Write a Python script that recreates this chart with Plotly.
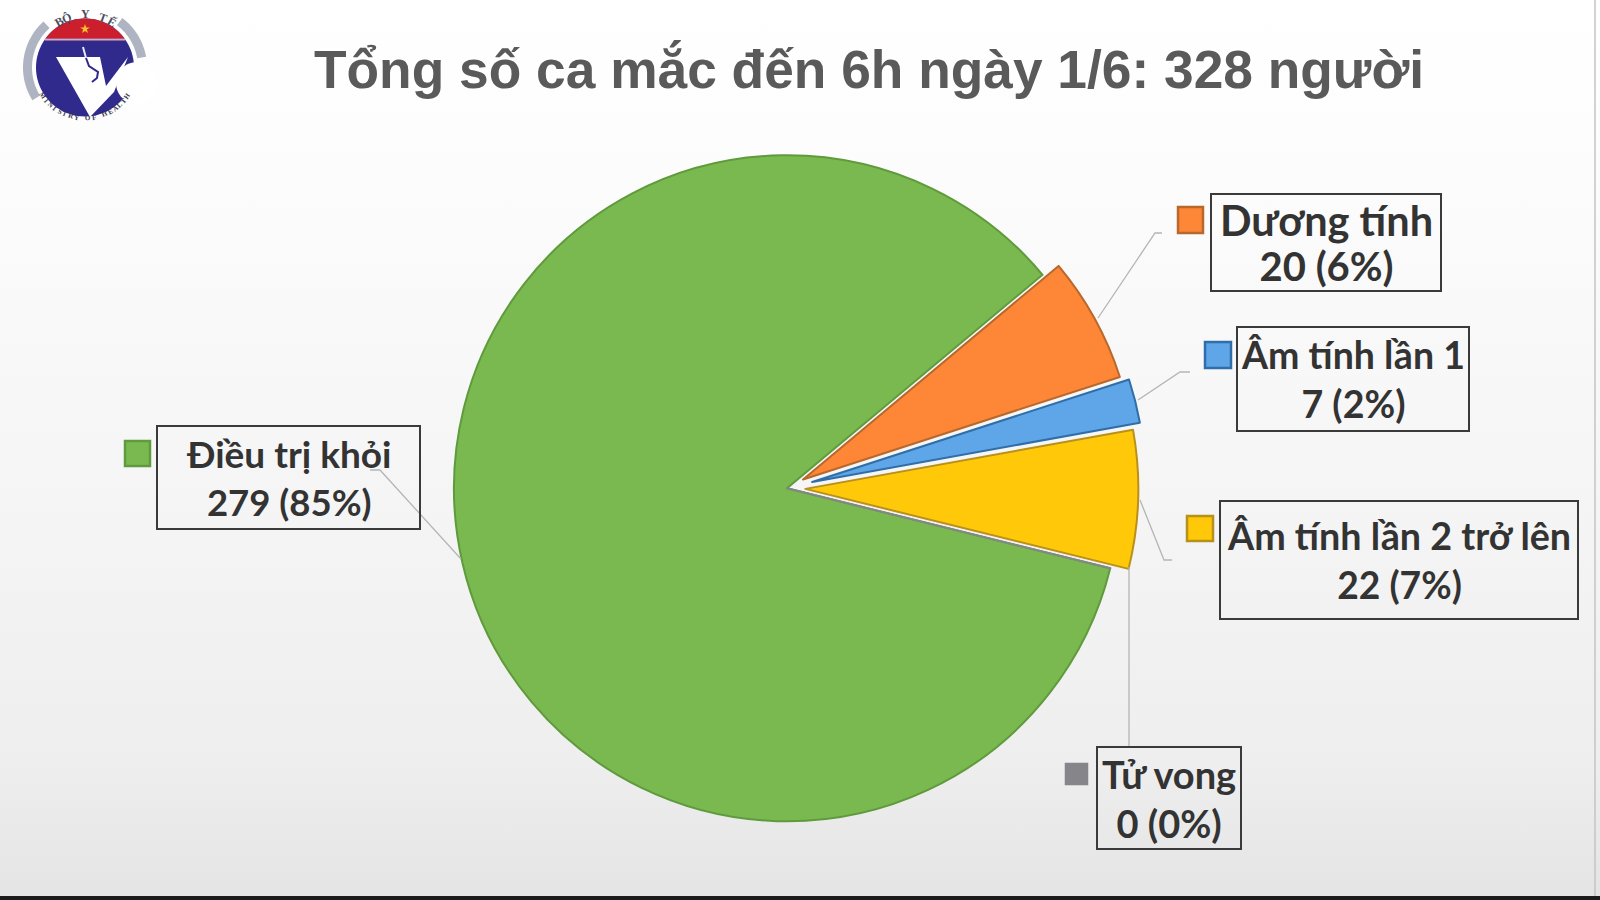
import math
from urllib.parse import quote
import plotly.graph_objects as go

# ---- data ----
categories = ["Điều trị khỏi", "Dương tính", "Âm tính lần 1", "Âm tính lần 2 trở lên", "Tử vong"]
values = [279, 20, 7, 22, 0]
chart_title = "Tổng số ca mắc đến 6h ngày 1/6: 328 người"

# ---- styles ----
fills = ["#7ab94f", "#fd8637", "#5ea6e8", "#ffc808", "#85858a"]
edges = ["#5f9a3c", "#b9682c", "#2f6ea8", "#b8901a", "#85858a"]
pulls = [0, 0.055, 0.078, 0.055, 0]
total = sum(values)
W, H = 1600, 900
def fx(x): return x / W
def fy(y): return 1 - y / H

# label layout in page pixels: box, key square, leader polyline, base size (line pitch), line sizes
label_layout = {
    "Điều trị khỏi": dict(box=(157, 426, 420, 529), key=(125, 441, 150, 466), lead=[(461, 559), (380, 470), (370, 470)], size=37, lines=(37, 36.5)),
    "Dương tính": dict(box=(1211, 194, 1441, 291), key=(1178, 207, 1203, 233), lead=[(1098, 318), (1155, 233), (1162, 233)], size=34.5, lines=(41.5, 40)),
    "Âm tính lần 1": dict(box=(1237, 327, 1469, 431), key=(1205, 342, 1231, 368), lead=[(1138, 400), (1180, 372), (1190, 372)], size=37.5, lines=(37.5, 37.5)),
    "Âm tính lần 2 trở lên": dict(box=(1220, 501, 1578, 619), key=(1187, 516, 1213, 541), lead=[(1140, 500), (1164, 560), (1172, 560)], size=37.7, lines=(37.7, 37.2)),
    "Tử vong": dict(box=(1097, 747, 1241, 849), key=(1066, 764, 1087, 784), lead=[(1129, 567), (1129, 747)], size=37.5, lines=(38, 38)),
}

shapes, annotations = [], []

def poly(points, fill=None, line=None, width=0, close=True, layer="above"):
    d = "M " + " L ".join(f"{fx(x):.5f},{fy(y):.5f}" for x, y in points) + (" Z" if close else "")
    shapes.append(dict(type="path", path=d, xref="paper", yref="paper", layer=layer,
                       fillcolor=fill if fill else "rgba(0,0,0,0)",
                       line=dict(color=line if line else "rgba(0,0,0,0)", width=width)))

def rect(x0, y0, x1, y1, fill=None, line=None, width=0):
    shapes.append(dict(type="rect", xref="paper", yref="paper", x0=fx(x0), x1=fx(x1), y0=fy(y0), y1=fy(y1),
                       fillcolor=fill if fill else "rgba(0,0,0,0)",
                       line=dict(color=line if line else "rgba(0,0,0,0)", width=width)))

def arc_pts(cx, cy, r, a0, a1, n=40):
    return [(cx + r * math.sin(math.radians(a0 + (a1 - a0) * i / n)),
             cy - r * math.cos(math.radians(a0 + (a1 - a0) * i / n))) for i in range(n + 1)]

# ---- frame ----
poly([(1595, 0), (1595, 896)], line="#c4c4c4", width=1.5, close=False)
rect(0, 896, 1600, 900, fill="#1c1c1c")

# ---- logo ----
cx, cy = 85, 67.5
for a0, a1 in [(238, 318), (37, 80), (96, 122)]:
    poly(arc_pts(cx, cy, 62, a0, a1) + arc_pts(cx, cy, 53, a1, a0), fill="#aeb4c2")
poly(arc_pts(cx, cy, 49, 0, 360, 80), fill="#2f2a8c")
ang = math.degrees(math.acos((cy - 38) / 49))
poly(arc_pts(cx, cy, 49, -ang, ang), fill="#cc1f2d")
poly([(cx - 40, 39.5), (cx + 40, 39.5)], line="#f0a0a8", width=2, close=False)
poly([(85 + (5 if i % 2 == 0 else 2) * math.sin(math.radians(36 * i)),
       29 - (5 if i % 2 == 0 else 2) * math.cos(math.radians(36 * i))) for i in range(10)], fill="#f6c12a")
poly([(56, 57), (100, 57), (106, 86), (128, 57), (114, 92), (90, 117)], fill="#ffffff")
poly(arc_pts(137, 83, 21, 0, 360, 50), fill="#ffffff")
poly([(83, 47), (86, 58)], line="#e8e8f4", width=2, close=False)
poly([(86, 58), (89, 66), (98, 72), (97, 78), (92, 82)], line="#2f2a8c", width=2, close=False)

def arc_text(text, radius, mid, step, size, color, bottom=False):
    n = len(text)
    for i, ch in enumerate(text):
        off = (i - (n - 1) / 2) * step
        th = mid - off if bottom else mid + off
        rot = th - 180 if bottom else th
        if ch == " ":
            continue
        annotations.append(dict(
            xref="paper", yref="paper", showarrow=False, xanchor="center", yanchor="middle",
            x=fx(cx + radius * math.sin(math.radians(th))), y=fy(cy - radius * math.cos(math.radians(th))),
            text=f"<b>{ch}</b>", textangle=rot, font=dict(family="Liberation Serif", size=size, color=color)))

arc_text("BỘ Y TẾ", 53, 0, 10, 12, "#4a4e5c")
arc_text("MINISTRY OF HEALTH", 51, 180, 6.6, 7, "#33354a", bottom=True)

# ---- labels ----
for cat, val, fill, edge in zip(categories, values, fills, edges):
    spec = label_layout[cat]
    poly(spec["lead"], line="#b5b5b5", width=1.3, close=False)
    rect(*spec["key"], fill=fill, line=edge, width=2.5)
    rect(*spec["box"], line="#3a3a3a", width=2)
    x0, y0, x1, y1 = spec["box"]
    pct = round(val / total * 100)
    s1, s2 = spec["lines"]
    annotations.append(dict(
        xref="paper", yref="paper", showarrow=False, xanchor="center", yanchor="middle",
        x=fx((x0 + x1) / 2), y=fy((y0 + y1) / 2), align="center",
        text=(f'<span style="font-size:{s1}px"><b>{cat}</b></span><br>'
              f'<span style="font-size:{s2}px"><b>{val} ({pct}%)</b></span>'),
        font=dict(family="Lato", size=spec["size"], color="#333333")))

annotations.append(dict(
    xref="paper", yref="paper", showarrow=False, xanchor="center", yanchor="middle",
    x=fx(869), y=fy(70), text=f"<b>{chart_title}</b>",
    font=dict(family="Liberation Sans", size=53.3, color="#5a5a5a")))

# ---- background gradient ----
svg = ('<svg xmlns="http://www.w3.org/2000/svg" width="1600" height="900" preserveAspectRatio="none">'
       '<defs><linearGradient id="g" x1="0" y1="0" x2="0" y2="1">'
       '<stop offset="0" stop-color="#ffffff"/><stop offset="0.15" stop-color="#fdfdfd"/>'
       '<stop offset="0.6" stop-color="#f4f4f4"/><stop offset="0.85" stop-color="#eeeeee"/>'
       '<stop offset="1" stop-color="#e4e4e4"/></linearGradient></defs>'
       '<rect width="1600" height="900" fill="url(#g)"/></svg>')

pie_cx, pie_cy, pie_r = 787, 488.3, 333
half = pie_r * (1 + max(pulls))

fig = go.Figure(go.Pie(
    labels=categories, values=values, sort=False, direction="clockwise", rotation=103.9,
    pull=pulls, textinfo="none", showlegend=False,
    marker=dict(colors=fills, line=dict(color=edges, width=2)),
    domain=dict(x=[fx(pie_cx - half), fx(pie_cx + half)], y=[fy(pie_cy + half), fy(pie_cy - half)]),
))
fig.update_layout(
    width=W, height=H, margin=dict(l=0, r=0, t=0, b=0), autosize=False,
    paper_bgcolor="#ffffff", shapes=shapes, annotations=annotations,
    images=[dict(source="data:image/svg+xml," + quote(svg), xref="paper", yref="paper", x=0, y=1,
                 sizex=1, sizey=1, sizing="stretch", xanchor="left", yanchor="top", layer="below")],
)
fig.write_html("out.html", config={"displayModeBar": False},
               post_script="document.body.style.margin='0';document.body.style.overflow='hidden';")
